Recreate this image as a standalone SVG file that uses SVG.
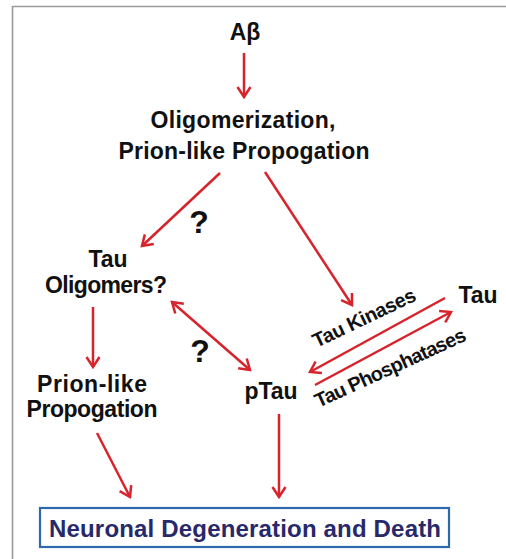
<svg xmlns="http://www.w3.org/2000/svg" width="506" height="559" viewBox="0 0 506 559">
<defs>
<style>
.t{font-family:"Liberation Sans",Arial,sans-serif;font-weight:bold;font-size:23px;fill:#111;text-anchor:middle}
.s{font-size:20px}
.q{font-size:32px}
.a{stroke:#d7232b;stroke-width:2.5;fill:none}
.box{fill:#fff;stroke:#2f69ad;stroke-width:2.2}
.bt{fill:#27296b;font-size:24px}
</style>
<marker id="ah" viewBox="-12 -10 14 20" refX="0" refY="0" markerWidth="14" markerHeight="20" markerUnits="userSpaceOnUse" orient="auto-start-reverse" overflow="visible">
<path d="M-10,-6.5 L0,0 L-10,6.5" fill="none" stroke="#d7232b" stroke-width="2.5"/>
</marker>
</defs>
<rect width="506" height="559" fill="#fff"/>
<path d="M12.5,559 L12.5,6.5 L506,6.5" fill="none" stroke="#9a9a9a" stroke-width="1.6"/>
<g id="connectors">
<line class="a" x1="244" y1="53" x2="244" y2="97" marker-end="url(#ah)"/>
<line class="a" x1="220" y1="173" x2="142" y2="246" marker-end="url(#ah)"/>
<line class="a" x1="265" y1="172" x2="352" y2="305" marker-end="url(#ah)"/>
<line class="a" x1="93" y1="307" x2="93" y2="367" marker-end="url(#ah)"/>
<line class="a" x1="172" y1="302" x2="250" y2="370" marker-start="url(#ah)" marker-end="url(#ah)"/>
<line class="a" x1="445" y1="298" x2="310" y2="372" marker-end="url(#ah)"/>
<line class="a" x1="315" y1="385" x2="451" y2="312" marker-end="url(#ah)"/>
<line class="a" x1="279" y1="414" x2="279" y2="497" marker-end="url(#ah)"/>
<line class="a" x1="97" y1="433" x2="130" y2="497" marker-end="url(#ah)"/>
</g>
<g id="abeta"><text class="t" x="245" y="40">Aβ</text></g>
<g id="oligomerization">
<text class="t" x="243" y="128" textLength="185">Oligomerization,</text>
<text class="t" x="244" y="159" textLength="251">Prion-like Propogation</text>
</g>
<g id="q1"><text class="t q" x="199" y="233">?</text></g>
<g id="tau-oligomers">
<text class="t" x="108" y="267">Tau</text>
<text class="t" x="106" y="293" textLength="122">Oligomers?</text>
</g>
<g id="prion-like">
<text class="t" x="92" y="392" textLength="110">Prion-like</text>
<text class="t" x="92" y="417" textLength="131">Propogation</text>
</g>
<g id="q2"><text class="t q" x="200" y="362">?</text></g>
<g id="ptau"><text class="t" x="271" y="399">pTau</text></g>
<g id="tau"><text class="t" x="478" y="303">Tau</text></g>
<g id="kinases"><text class="t s" transform="translate(367,324) rotate(-25.5)" textLength="112">Tau Kinases</text></g>
<g id="phosphatases"><text class="t s" transform="translate(393,374) rotate(-24.5)" textLength="164">Tau Phosphatases</text></g>
<g id="neuronal">
<rect class="box" x="40" y="508" width="409" height="39"/>
<text class="t bt" x="245" y="537" textLength="392">Neuronal Degeneration and Death</text>
</g>
</svg>
